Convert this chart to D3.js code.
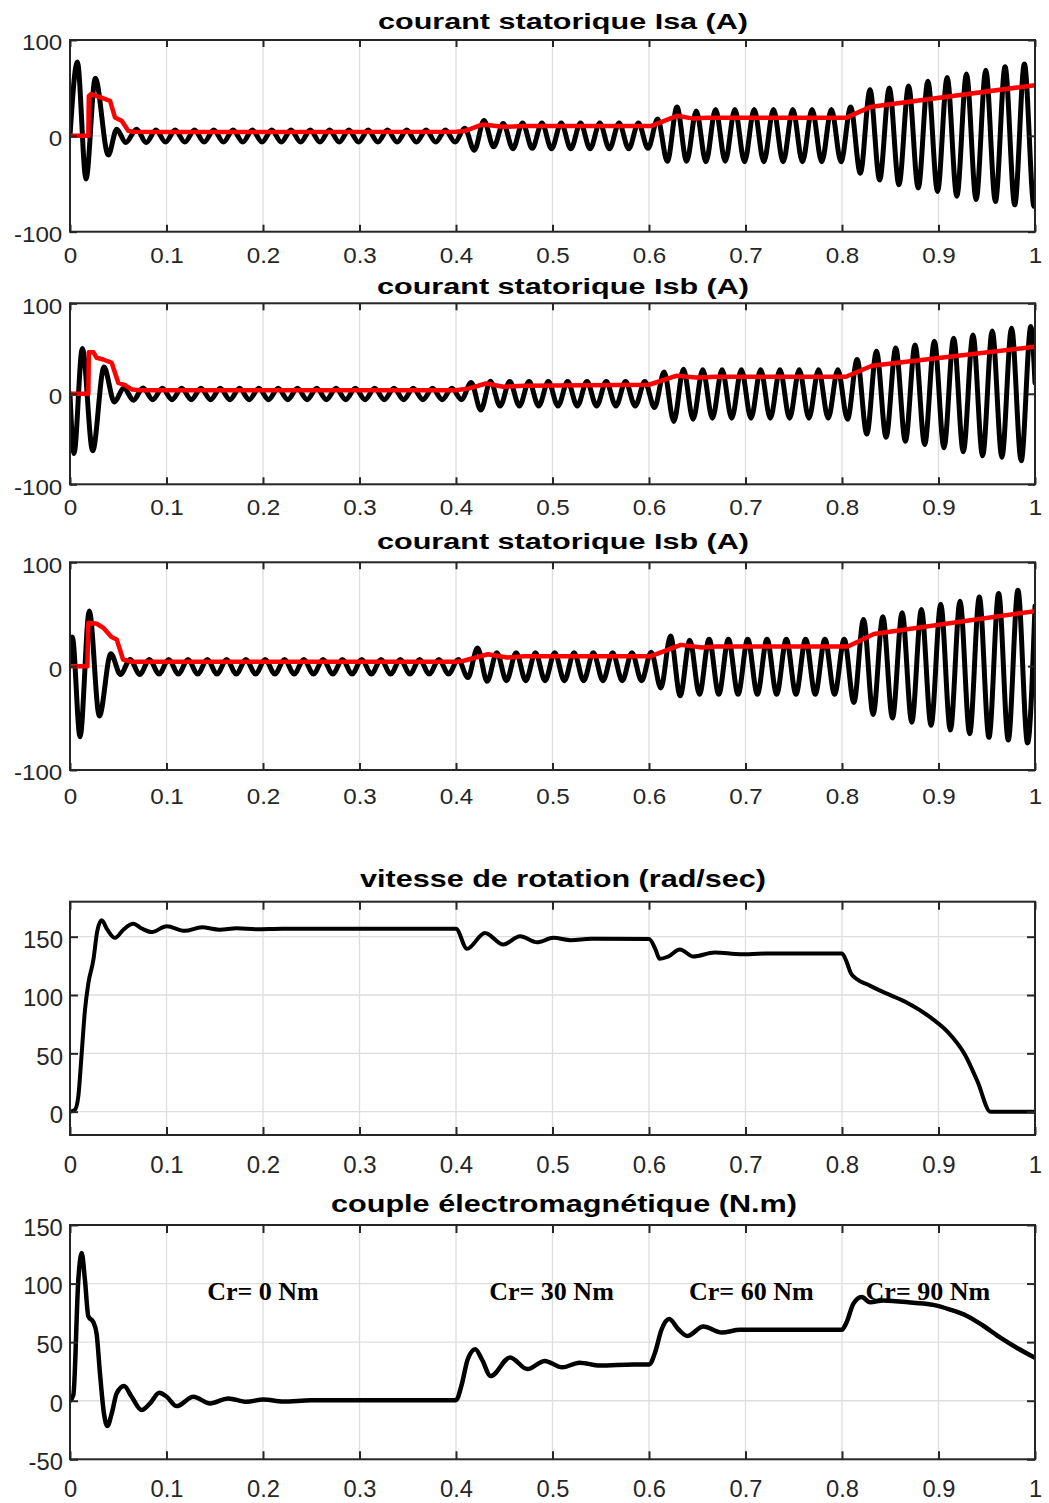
<!DOCTYPE html>
<html>
<head>
<meta charset="utf-8">
<script src="https://cdn.jsdelivr.net/npm/d3@7"></script>
<style>
  body { margin: 0; background: #fff; }
  svg { display: block; }
</style>
</head>
<body>
<svg id="fig" width="1049" height="1503"></svg>
<script>
// ---- axis ticks -------------------------------------------------------
const xTicks = [0, 0.1, 0.2, 0.3, 0.4, 0.5, 0.6, 0.7, 0.8, 0.9, 1];
const xTickLabels = ["0", "0.1", "0.2", "0.3", "0.4", "0.5", "0.6", "0.7", "0.8", "0.9", "1"];
const currentTicks = [-100, 0, 100];
const speedTicks = [0, 50, 100, 150];
const torqueTicks = [-50, 0, 50, 100, 150];

// ---- stator currents: successive peaks/troughs [t (s), i (A)] ----------
const isaWave = [
  [0,0],[0.0076,77],[0.0166,-45],[0.0262,60],[0.0397,-20],[0.0484,7],[0.0577,-7],[0.069,7],[0.079,-7],[0.089,6],[0.099,-6.5],
  [0.109,6],[0.119,-6.5],[0.129,6],[0.139,-6.5],[0.149,6],[0.159,-6.5],[0.169,6],[0.179,-6.5],[0.189,6],[0.199,-6.5],
  [0.209,6],[0.219,-6.5],[0.229,6],[0.239,-6.5],[0.249,6],[0.259,-6.5],[0.269,6],[0.279,-6.5],[0.289,6],[0.299,-6.5],
  [0.309,6],[0.319,-6.5],[0.329,6],[0.339,-6.5],[0.349,6],[0.359,-6.5],[0.369,6],[0.379,-6.5],[0.389,6],[0.399,-6.5],
  [0.409,8],[0.419,-15],[0.429,16],[0.439,-11.5],[0.449,13],[0.459,-13.5],[0.469,13.5],[0.479,-13],[0.489,13.5],[0.499,-13.5],
  [0.509,13.5],[0.519,-13.5],[0.529,13.5],[0.539,-13.5],[0.549,13.5],[0.559,-13.5],[0.569,13.5],[0.579,-13.5],[0.589,13.5],[0.599,-13],
  [0.609,17.5],[0.619,-26.5],[0.629,30],[0.639,-26.5],[0.649,26],[0.659,-27],[0.669,27.5],[0.679,-26.5],[0.689,27.5],[0.699,-27],
  [0.709,27.5],[0.719,-27],[0.729,27.5],[0.739,-27],[0.749,27.5],[0.759,-27],[0.769,27.5],[0.779,-27],[0.789,27.5],[0.799,-27],
  [0.809,30],[0.819,-39],[0.829,48],[0.839,-46],[0.849,50],[0.859,-51],[0.869,52],[0.879,-54.5],[0.889,57],[0.899,-58],
  [0.909,61],[0.919,-63],[0.929,64.5],[0.939,-66.5],[0.949,68.5],[0.959,-68.5],[0.969,72],[0.979,-72],[0.989,75],[0.999,-73.5],[1,-73]
];
const isbWave = [
  [0,0],[0.0041,-66],[0.0128,50],[0.0235,-63],[0.0352,29.5],[0.046,-9],[0.0557,6.5],[0.0657,-7],[0.0757,6.5],[0.0857,-6.5],
  [0.0957,6],[0.1057,-6.5],[0.1157,6],[0.1257,-6.5],[0.1357,6],[0.1457,-6.5],[0.1557,6],[0.1657,-6.5],[0.1757,6],[0.1857,-6.5],
  [0.1957,6],[0.2057,-6.5],[0.2157,6],[0.2257,-6.5],[0.2357,6],[0.2457,-6.5],[0.2557,6],[0.2657,-6.5],[0.2757,6],[0.2857,-6.5],
  [0.2957,6],[0.3057,-6.5],[0.3157,6],[0.3257,-6.5],[0.3357,6],[0.3457,-6.5],[0.3557,6],[0.3657,-6.5],[0.3757,6],[0.3857,-6.5],
  [0.3957,6],[0.4057,-6.5],[0.4157,12.5],[0.4257,-18],[0.4357,14],[0.4457,-13.5],[0.4557,13.5],[0.4657,-13.5],[0.4757,13.5],[0.4857,-13.5],
  [0.4957,13.5],[0.5057,-13.5],[0.5157,13.5],[0.5257,-13.5],[0.5357,13.5],[0.5457,-13.5],[0.5557,13.5],[0.5657,-13.5],[0.5757,13.5],[0.5857,-13.5],
  [0.5957,13.5],[0.6057,-15],[0.6157,24],[0.6257,-30.5],[0.6357,27],[0.6457,-28],[0.6557,26.5],[0.6657,-27],[0.6757,26.5],[0.6857,-27],
  [0.6957,26.5],[0.7057,-27],[0.7157,26.5],[0.7257,-27],[0.7357,26.5],[0.7457,-27],[0.7557,26.5],[0.7657,-27],[0.7757,26.5],[0.7857,-27],
  [0.7957,26.5],[0.8057,-28],[0.8157,38],[0.8257,-44.5],[0.8357,47],[0.8457,-48],[0.8557,50.5],[0.8657,-52.5],[0.8757,54],[0.8857,-56],
  [0.8957,58],[0.9057,-59.5],[0.9157,61.5],[0.9257,-64],[0.9357,65],[0.9457,-68.5],[0.9557,69.5],[0.9657,-70],[0.9757,72.5],[0.9857,-74],
  [0.9957,74.5],[1,12]
];
const iscWave = [
  [0,0],[0.0024,28],[0.0104,-68],[0.02,53],[0.0304,-48],[0.0423,12],[0.0523,-8],[0.0623,6.5],[0.0723,-8],
  [0.0823,6.5],[0.0923,-7.5],[0.1023,6.5],[0.1123,-7.5],[0.1223,6.5],[0.1323,-7.5],[0.1423,6.5],[0.1523,-7.5],[0.1623,6.5],[0.1723,-7.5],
  [0.1823,6.5],[0.1923,-7.5],[0.2023,6.5],[0.2123,-7.5],[0.2223,6.5],[0.2323,-7.5],[0.2423,6.5],[0.2523,-7.5],[0.2623,6.5],[0.2723,-7.5],
  [0.2823,6.5],[0.2923,-7.5],[0.3023,6.5],[0.3123,-7.5],[0.3223,6.5],[0.3323,-7.5],[0.3423,6.5],[0.3523,-7.5],[0.3623,6.5],[0.3723,-7.5],
  [0.3823,6.5],[0.3923,-7.5],[0.4023,6.5],[0.4123,-11],[0.4223,17.5],[0.4323,-14.5],[0.4423,13],[0.4523,-14],[0.4623,13],[0.4723,-14],
  [0.4823,13],[0.4923,-14],[0.5023,13],[0.5123,-14],[0.5223,13],[0.5323,-14],[0.5423,13],[0.5523,-14],[0.5623,13],[0.5723,-14],
  [0.5823,13],[0.5923,-14],[0.6023,13.5],[0.6123,-21],[0.6223,29],[0.6323,-28.5],[0.6423,25],[0.6523,-27],[0.6623,26],[0.6723,-27],
  [0.6823,26],[0.6923,-27],[0.7023,26],[0.7123,-27],[0.7223,26],[0.7323,-27],[0.7423,26],[0.7523,-27],[0.7623,26],[0.7723,-27],
  [0.7823,26],[0.7923,-27],[0.8023,26],[0.8123,-35],[0.8223,45],[0.8323,-46.5],[0.8423,47.5],[0.8523,-50],[0.8623,51.5],[0.8723,-54],
  [0.8823,54.5],[0.8923,-57],[0.9023,59.5],[0.9123,-61.5],[0.9223,62.5],[0.9323,-65],[0.9423,66.5],[0.9523,-68.5],[0.9623,70],[0.9723,-71],
  [0.9823,73],[0.9923,-74],[1,58]
];

// ---- current magnitude (red traces) [t (s), A] -------------------------
const isaMag = [
  [0,0],[0.019,0],[0.0195,41.7],[0.0217,43.5],[0.0345,39],[0.0415,36.6],[0.0466,19.2],[0.0535,15.7],[0.0604,5.2],[0.0656,4.2],
  [0.1,4],[0.4,4.2],[0.409,5],[0.427,11.8],[0.449,9.4],[0.47,10.2],[0.6025,10.4],[0.629,20.9],[0.646,18],[0.66,18.8],
  [0.804,18.8],[0.829,30],[0.848,32.7],[1,52.9]
];
const isbMag = [
  [0,0],[0.019,0],[0.0195,46],[0.0242,46],[0.0276,39.8],[0.0345,37.9],[0.0432,34.3],[0.05,12.2],[0.057,9.6],[0.064,4.8],
  [0.0725,4],[0.4,4],[0.4136,6],[0.431,11.4],[0.449,7.7],[0.47,8.8],[0.6,10],[0.629,20],[0.649,18],[0.67,18.8],
  [0.804,18.8],[0.831,31],[1,52]
];
const iscMag = [
  [0,0],[0.018,0],[0.019,41.7],[0.0277,40.8],[0.0345,37],[0.043,28],[0.0484,25.7],[0.055,6.4],[0.064,4.2],
  [0.4,4.2],[0.407,5],[0.433,11.5],[0.453,8.3],[0.471,9.6],[0.602,9.6],[0.633,20.5],[0.655,18],[0.67,18.9],
  [0.806,18.9],[0.833,31],[1,53]
];

// ---- rotor speed [t (s), rad/s] ----------------------------------------
const speed = [
  [0,0],[0.005,1.5],[0.0086,13],[0.0121,50],[0.0155,87],[0.019,110],[0.0242,130],[0.0283,155],[0.0328,164],[0.0387,156],
  [0.0466,149],[0.0553,156],[0.0656,161],[0.0743,157],[0.0847,154],[0.1002,159],[0.119,155],[0.1365,158],[0.155,156],
  [0.1727,157.2],[0.193,156.4],[0.22,156.8],[0.4,156.8],[0.4114,139.6],[0.43,153.2],[0.449,143.3],[0.4663,150.4],[0.484,145.2],
  [0.501,149],[0.519,147],[0.54,148.2],[0.6,148],[0.6068,139],[0.611,131],[0.62,133],[0.632,139],[0.646,133],[0.668,136.5],
  [0.695,135],[0.72,135.5],[0.8,135.5],[0.8045,129],[0.809,119],[0.8155,113.5],[0.8265,109],[0.844,102],[0.866,94],
  [0.893,80],[0.91,68],[0.928,48],[0.9406,25.5],[0.9538,0],[1,0]
];

// ---- electromagnetic torque [t (s), N.m] -------------------------------
const torque = [
  [0,0],[0.0035,5],[0.0086,103],[0.0121,126],[0.0155,103],[0.019,72],[0.0242,67],[0.0276,57],[0.0311,23],[0.0352,-11],
  [0.0387,-21.6],[0.0432,-11],[0.0484,6.3],[0.056,12.5],[0.0639,3.4],[0.0743,-8],[0.0829,-2.3],[0.0925,6.8],[0.1002,3.4],
  [0.1105,-4.6],[0.1278,3.4],[0.1451,-2.3],[0.164,2],[0.183,-0.9],[0.2003,1.1],[0.221,-0.6],[0.25,0.3],[0.4,0.5],
  [0.406,14],[0.412,35],[0.42,44],[0.427,35],[0.436,21],[0.456,37],[0.474,27],[0.492,34],[0.51,28.5],[0.528,32.5],
  [0.549,30],[0.584,31],[0.6003,31],[0.6062,41],[0.6131,61],[0.621,69.7],[0.6304,61],[0.6397,55.3],[0.6563,63.4],
  [0.6753,58.2],[0.6943,60.5],[0.7997,60.5],[0.8048,67],[0.8117,82.7],[0.8204,88.5],[0.829,84],[0.8428,85.6],
  [0.8739,83.6],[0.8946,81.8],[0.912,77.8],[0.929,72.6],[0.9464,64],[0.9637,54],[0.981,45.2],[1,36.6]
];

// ---- load torque annotations ------------------------------------------
const loadLabels = ["Cr= 0 Nm", "Cr= 30 Nm", "Cr= 60 Nm", "Cr= 90 Nm"];
const loadLabelTimes = [0.2, 0.499, 0.706, 0.889];
const loadLabelLevel = 86;

// ---- drawing ----------------------------------------------------------
const SANS = "'Liberation Sans', Arial, Helvetica, sans-serif";
const SERIF = "'Liberation Serif', 'Times New Roman', serif";
const AXIS_COLOR = "#262626";
const GRID_COLOR = "#dedede";

const svg = d3.select("#fig");
svg.append("rect").attr("width", 1049).attr("height", 1503).attr("fill", "#fff");

const x = d3.scaleLinear().domain([0, 1]).range([70, 1035]);

const panels = [
  { id: "isa", top: 40, bottom: 231.7, domain: [-100, 100], yTicks: currentTicks,
    title: "courant statorique Isa (A)", titleY: 29, titleSize: 22, titleW: 370, titleCx: 563,
    font: 22, sx: 1.1, xPad: 15.5, tick: 7,
    series: [ { data: isaWave, color: "#000", width: 5, curve: d3.curveMonotoneX },
              { data: isaMag, color: "#ff0000", width: 4.5, curve: d3.curveLinear } ] },
  { id: "isb", top: 303.3, bottom: 484.3, domain: [-100, 100], yTicks: currentTicks,
    title: "courant statorique Isb (A)", titleY: 294, titleSize: 22, titleW: 372, titleCx: 563,
    font: 22, sx: 1.1, xPad: 15.5, tick: 7,
    series: [ { data: isbWave, color: "#000", width: 5, curve: d3.curveMonotoneX },
              { data: isbMag, color: "#ff0000", width: 4.5, curve: d3.curveLinear } ] },
  { id: "isc", top: 562.3, bottom: 770, domain: [-100, 100], yTicks: currentTicks,
    title: "courant statorique Isb (A)", titleY: 549, titleSize: 22, titleW: 372, titleCx: 563,
    font: 22, sx: 1.1, xPad: 18, tick: 7,
    series: [ { data: iscWave, color: "#000", width: 5, curve: d3.curveMonotoneX },
              { data: iscMag, color: "#ff0000", width: 4.5, curve: d3.curveLinear } ] },
  { id: "speed", top: 901.7, bottom: 1135, domain: [-20, 180], yTicks: speedTicks,
    title: "vitesse de rotation (rad/sec)", titleY: 887, titleSize: 24, titleW: 406, titleCx: 563,
    font: 24, sx: 1.0, xPad: 21, tick: 8,
    series: [ { data: speed, color: "#000", width: 4, curve: d3.curveMonotoneX } ] },
  { id: "torque", top: 1225, bottom: 1459.3, domain: [-50, 150], yTicks: torqueTicks,
    title: "couple électromagnétique (N.m)", titleY: 1212, titleSize: 24, titleW: 466, titleCx: 564,
    font: 23, sx: 1.03, xPad: 21, tick: 8,
    series: [ { data: torque, color: "#000", width: 4.5, curve: d3.curveMonotoneX } ] }
];

const defs = svg.append("defs");

panels.forEach(p => {
  const y = d3.scaleLinear().domain(p.domain).range([p.bottom, p.top]);
  const [x0, x1] = x.range();
  const g = svg.append("g").attr("class", "panel-" + p.id);

  defs.append("clipPath").attr("id", "clip-" + p.id)
    .append("rect").attr("x", x0).attr("y", p.top)
    .attr("width", x1 - x0).attr("height", p.bottom - p.top);

  // grid
  const grid = g.append("g").attr("stroke", GRID_COLOR).attr("stroke-width", 1.3);
  grid.selectAll("line.gx").data(xTicks).join("line")
    .attr("x1", d => x(d)).attr("x2", d => x(d))
    .attr("y1", p.top).attr("y2", p.bottom);
  grid.selectAll("line.gy").data(p.yTicks).join("line")
    .attr("x1", x0).attr("x2", x1)
    .attr("y1", d => y(d)).attr("y2", d => y(d));

  // traces
  const plot = g.append("g").attr("clip-path", "url(#clip-" + p.id + ")");
  p.series.forEach(s => {
    const line = d3.line().x(d => x(d[0])).y(d => y(d[1])).curve(s.curve);
    plot.append("path").datum(s.data)
      .attr("d", line)
      .attr("fill", "none")
      .attr("stroke", s.color)
      .attr("stroke-width", s.width)
      .attr("stroke-linejoin", "round")
      .attr("stroke-linecap", "round");
  });

  // box
  g.append("rect").attr("x", x0).attr("y", p.top)
    .attr("width", x1 - x0).attr("height", p.bottom - p.top)
    .attr("fill", "none").attr("stroke", AXIS_COLOR).attr("stroke-width", 2);

  const styleAxis = (sel, showText) => {
    sel.select(".domain").remove();
    sel.selectAll(".tick line").attr("stroke", AXIS_COLOR).attr("stroke-width", 2);
    sel.selectAll(".tick text")
      .attr("fill", AXIS_COLOR)
      .style("font-family", SANS)
      .style("font-size", p.font + "px")
      .attr("transform", `scale(${p.sx},1)`);
    if (!showText) sel.selectAll(".tick text").remove();
  };

  // bottom / top
  g.append("g").attr("transform", `translate(0,${p.bottom})`)
    .call(d3.axisBottom(x).tickValues(xTicks).tickFormat((d, i) => xTickLabels[i])
      .tickSizeInner(-p.tick).tickSizeOuter(0).tickPadding(p.xPad))
    .call(s => styleAxis(s, true));
  g.append("g").attr("transform", `translate(0,${p.top})`)
    .call(d3.axisTop(x).tickValues(xTicks).tickSizeInner(-p.tick).tickSizeOuter(0))
    .call(s => styleAxis(s, false));

  // left / right
  g.append("g").attr("transform", `translate(${x0},0)`)
    .call(d3.axisLeft(y).tickValues(p.yTicks).tickFormat(d => String(d))
      .tickSizeInner(-p.tick).tickSizeOuter(0).tickPadding(7))
    .call(s => styleAxis(s, true))
    .call(s => s.selectAll(".tick text").attr("dy", "0.45em"));
  g.append("g").attr("transform", `translate(${x1},0)`)
    .call(d3.axisRight(y).tickValues(p.yTicks).tickSizeInner(-p.tick).tickSizeOuter(0))
    .call(s => styleAxis(s, false));

  // title
  g.append("text")
    .attr("x", p.titleCx).attr("y", p.titleY)
    .attr("text-anchor", "middle")
    .attr("textLength", p.titleW)
    .attr("lengthAdjust", "spacingAndGlyphs")
    .style("font-family", SANS)
    .style("font-size", p.titleSize + "px")
    .style("font-weight", "bold")
    .attr("fill", "#000")
    .text(p.title);

  p.y = y;
});

// load torque annotations on the torque panel
const torquePanel = panels.find(p => p.id === "torque");
svg.append("g").selectAll("text").data(loadLabels).join("text")
  .attr("x", (d, i) => x(loadLabelTimes[i]))
  .attr("y", torquePanel.y(loadLabelLevel))
  .attr("text-anchor", "middle")
  .style("font-family", SERIF)
  .style("font-size", "26px")
  .style("font-weight", "bold")
  .attr("fill", "#000")
  .text(d => d);
</script>
</body>
</html>
